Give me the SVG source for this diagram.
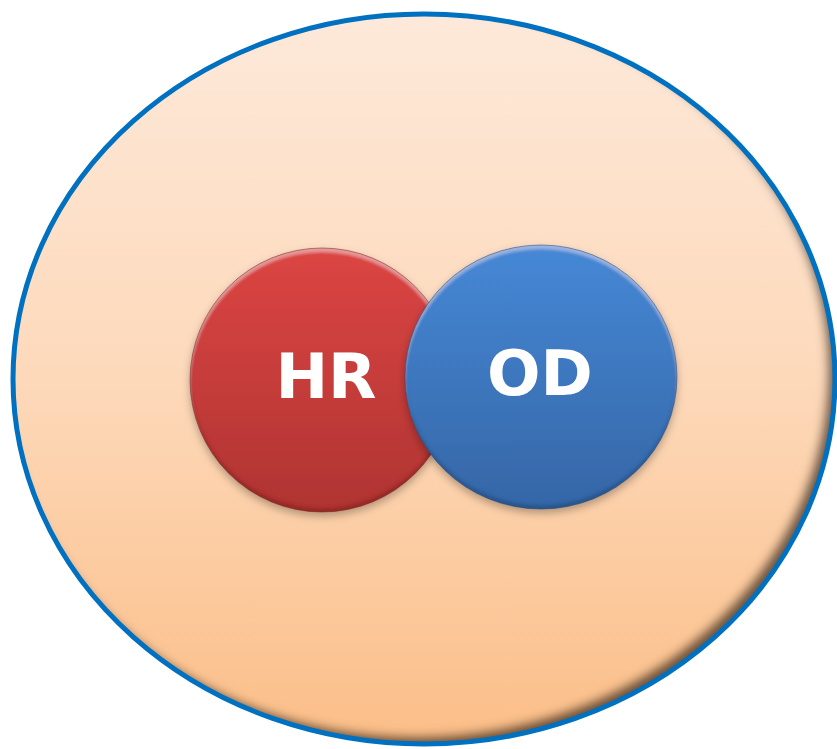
<svg xmlns="http://www.w3.org/2000/svg" width="837" height="749" viewBox="0 0 837 749">
  <defs>
    <linearGradient id="bgFill" x1="0" y1="0" x2="0" y2="1">
      <stop offset="0" stop-color="#FDE9DA"/>
      <stop offset="0.5" stop-color="#FDD9BA"/>
      <stop offset="1" stop-color="#FBBE88"/>
    </linearGradient>
    <linearGradient id="redFill" x1="0" y1="0" x2="0" y2="1">
      <stop offset="0" stop-color="#DC4543"/>
      <stop offset="1" stop-color="#AF3432"/>
    </linearGradient>
    <linearGradient id="blueFill" x1="0" y1="0" x2="0" y2="1">
      <stop offset="0" stop-color="#4688D6"/>
      <stop offset="1" stop-color="#3566A6"/>
    </linearGradient>
    <!-- shading along the lower-right inside edge of the outer ellipse -->
    <filter id="innerShade" x="-10%" y="-10%" width="120%" height="120%">
      <feOffset in="SourceAlpha" dx="-8" dy="-8" result="off"/>
      <feGaussianBlur in="off" stdDeviation="5" result="blur"/>
      <feComposite in="SourceAlpha" in2="blur" operator="out" result="ring"/>
      <feFlood flood-color="#2e1a0a" flood-opacity="0.85"/>
      <feComposite in2="ring" operator="in" result="shade"/>
      <feMerge>
        <feMergeNode in="SourceGraphic"/>
        <feMergeNode in="shade"/>
      </feMerge>
    </filter>
    <!-- soft drop shadow plus bevelled rim for the discs -->
    <filter id="disc" x="-20%" y="-20%" width="140%" height="140%">
      <feGaussianBlur in="SourceAlpha" stdDeviation="4" result="sb"/>
      <feOffset in="sb" dx="0" dy="4" result="so"/>
      <feFlood flood-color="#000" flood-opacity="0.3"/>
      <feComposite in2="so" operator="in" result="drop"/>
      <!-- light rim on top -->
      <feOffset in="SourceAlpha" dx="0" dy="4" result="o1"/>
      <feGaussianBlur in="o1" stdDeviation="1.5" result="b1"/>
      <feComposite in="SourceAlpha" in2="b1" operator="out" result="topRim"/>
      <feFlood flood-color="#fff" flood-opacity="0.28"/>
      <feComposite in2="topRim" operator="in" result="hi"/>
      <!-- dark rim at bottom -->
      <feOffset in="SourceAlpha" dx="0" dy="-4" result="o2"/>
      <feGaussianBlur in="o2" stdDeviation="1.5" result="b2"/>
      <feComposite in="SourceAlpha" in2="b2" operator="out" result="botRim"/>
      <feFlood flood-color="#000" flood-opacity="0.3"/>
      <feComposite in2="botRim" operator="in" result="lo"/>
      <feMerge>
        <feMergeNode in="drop"/>
        <feMergeNode in="SourceGraphic"/>
        <feMergeNode in="hi"/>
        <feMergeNode in="lo"/>
      </feMerge>
    </filter>
  </defs>
  <style>
    .label { font-family: "DejaVu Sans", Verdana, sans-serif; font-weight: bold; font-size: 63px; fill: #ffffff; text-anchor: middle; }
    .rim { fill: none; stroke-width: 1; stroke-opacity: 0.5; }
  </style>

  <g id="context">
    <ellipse cx="424" cy="379" rx="411" ry="365" fill="url(#bgFill)" filter="url(#innerShade)"/>
    <ellipse cx="424" cy="379" rx="411" ry="365" fill="none" stroke="#0070C0" stroke-width="5"/>
  </g>

  <g id="hr">
    <ellipse cx="322" cy="380" rx="132" ry="132" fill="url(#redFill)" filter="url(#disc)"/>
    <ellipse class="rim" cx="322" cy="380" rx="132" ry="132" stroke="#7a2220"/>
    <text class="label" x="326" y="398">HR</text>
  </g>

  <g id="od">
    <ellipse cx="541" cy="377" rx="136" ry="132" fill="url(#blueFill)" filter="url(#disc)"/>
    <ellipse class="rim" cx="541" cy="377" rx="136" ry="132" stroke="#23456f"/>
    <text class="label" x="540" y="395">OD</text>
  </g>
</svg>
